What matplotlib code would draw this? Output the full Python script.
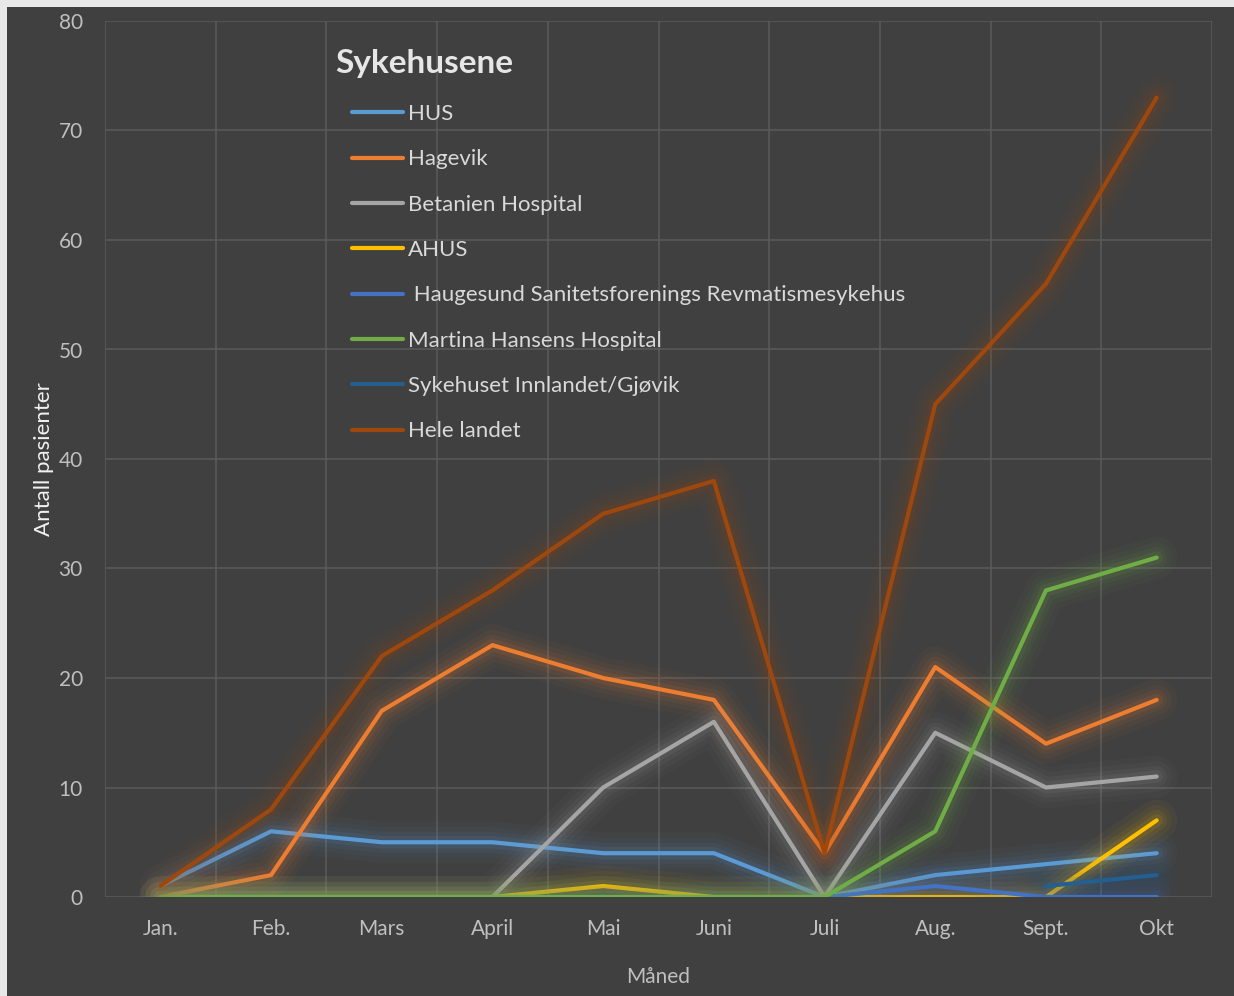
import numpy as np
import matplotlib.pyplot as plt
from matplotlib.lines import Line2D
from matplotlib.patches import Rectangle

plt.rcParams['font.family'] = ['Lato', 'DejaVu Sans']

months = ['Jan.', 'Feb.', 'Mars', 'April', 'Mai', 'Juni', 'Juli', 'Aug.', 'Sept.', 'Okt']
nan = np.nan

hus = [1, 6, 5, 5, 4, 4, 0, 2, 3, 4]
hagevik = [0, 2, 17, 23, 20, 18, 4, 21, 14, 18]
betanien = [0, 0, 0, 0, 10, 16, 0, 15, 10, 11]
ahus = [0, 0, 0, 0, 1, 0, 0, 0, 0, 7]
haugesund = [0, 0, 0, 0, 0, 0, 0, 1, 0, 0]
martina = [0, 0, 0, 0, 0, 0, 0, 6, 28, 31]
gjovik = [nan, nan, nan, nan, nan, nan, nan, nan, 1, 2]
hele_landet = [1, 8, 22, 28, 35, 38, 4, 45, 56, 73]

series = [
    ('HUS', hus, '#5B9BD5'),
    ('Hagevik', hagevik, '#ED7D31'),
    ('Betanien Hospital', betanien, '#A5A5A5'),
    ('AHUS', ahus, '#FFC000'),
    (' Haugesund Sanitetsforenings Revmatismesykehus', haugesund, '#4472C4'),
    ('Martina Hansens Hospital', martina, '#70AD47'),
    ('Sykehuset Innlandet/Gjøvik', gjovik, '#255E91'),
    ('Hele landet', hele_landet, '#9E480E'),
]

bg = '#404040'
grid_c = '#595959'
tick_c = '#bfbfbf'

fig = plt.figure(figsize=(12.34, 9.96), dpi=100)
fig.patch.set_facecolor('#e8e8e8')
fig.patches.append(Rectangle((7 / 1234, 0), 1, 1 - 7 / 996, transform=fig.transFigure,
                             facecolor=bg, edgecolor='none', zorder=-10))

ax = fig.add_axes([105 / 1234, 99 / 996, 1107 / 1234, 876 / 996])
ax.set_facecolor(bg)

x = np.arange(len(months))
handles = []
for i, (name, vals, col) in enumerate(series):
    z = 2 + i
    # soft glow like Excel
    for lw, a in [(30, 0.04), (22, 0.05), (15, 0.07), (9, 0.1)]:
        ax.plot(x, vals, color=col, lw=lw, alpha=a, solid_capstyle='round',
                solid_joinstyle='round', zorder=z)
    ax.plot(x, vals, color=col, lw=3, solid_capstyle='round', zorder=z + 0.5)
    handles.append(Line2D([], [], color=col, lw=3, solid_capstyle='round'))

ax.set_xlim(-0.5, 9.5)
ax.set_ylim(0, 80)
ax.set_yticks(np.arange(0, 81, 10))
ax.set_xticks(x)
ax.set_xticklabels(months)
ax.set_xticks(np.arange(-0.5, 10, 1), minor=True)
ax.grid(True, which='major', axis='y', color=grid_c, lw=1.2)
ax.grid(True, which='minor', axis='x', color=grid_c, lw=1.2)
ax.set_axisbelow(True)
for s in ax.spines.values():
    s.set_visible(False)
ax.tick_params(axis='both', which='both', length=0, colors=tick_c, labelsize=15)
ax.tick_params(axis='y', pad=16)
ax.tick_params(axis='x', pad=16)

ax.set_ylabel('Antall pasienter', color='#f2f2f2', fontsize=16, labelpad=3)
ax.set_xlabel('Måned', color=tick_c, fontsize=15, labelpad=20)

fig.text(335 / 1234, 1 - 64 / 996, 'Sykehusene', color='#e6e6e6', fontsize=24,
         fontweight='bold', ha='left', va='center')

leg = ax.legend(handles, [s[0] for s in series], loc='upper left',
                bbox_to_anchor=(352 / 1234, 1 - 104 / 996), bbox_transform=fig.transFigure,
                frameon=False, fontsize=16, handlelength=2.3, handletextpad=0.2,
                labelspacing=1.14, borderpad=0, borderaxespad=0)
for t in leg.get_texts():
    t.set_color('#d9d9d9')

fig.savefig('out.png', dpi=100, facecolor=fig.get_facecolor())
